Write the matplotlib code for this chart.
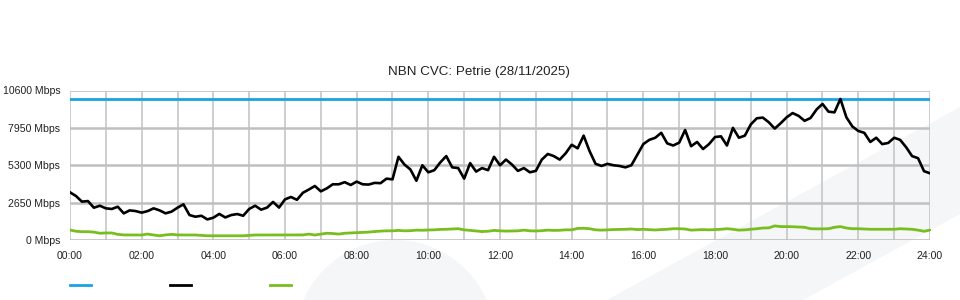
import numpy as np
import matplotlib
matplotlib.use("Agg")
import matplotlib.pyplot as plt
from matplotlib.lines import Line2D
from matplotlib.patches import Polygon, Ellipse

plt.rcParams['font.family'] = ['Liberation Sans', 'DejaVu Sans']

title = "NBN CVC: Petrie (28/11/2025)"
y_ticks = [0, 2650, 5300, 7950, 10600]
y_tick_labels = ["0 Mbps", "2650 Mbps", "5300 Mbps", "7950 Mbps", "10600 Mbps"]
x_tick_hours = [0, 2, 4, 6, 8, 10, 12, 14, 16, 18, 20, 22, 24]
x_tick_labels = ["00:00", "02:00", "04:00", "06:00", "08:00", "10:00", "12:00",
                 "14:00", "16:00", "18:00", "20:00", "22:00", "24:00"]

capacity_mbps = 10000

# 10-minute samples, 00:00 .. 24:00
usage_mbps = [
    3380, 3120, 2720, 2760, 2290, 2430,
    2245, 2200, 2360, 1890, 2100, 2050,
    1940, 2050, 2245, 2100, 1890, 2010,
    2290, 2530, 1770, 1650, 1720, 1460,
    1580, 1850, 1600, 1770, 1840, 1720,
    2200, 2430, 2150, 2300, 2700, 2300,
    2880, 3050, 2850, 3350, 3580, 3830,
    3450, 3660, 3950, 3950, 4100, 3900,
    4140, 3950, 3930, 4050, 4030, 4350,
    4300, 5900, 5350, 5000, 4200, 5300,
    4800, 4950, 5500, 5950, 5150, 5100,
    4350, 5450, 4850, 5100, 4950, 5900,
    5300, 5700, 5350, 4900, 5100, 4800,
    4900, 5700, 6100, 5950, 5700, 6150,
    6750, 6500, 7400, 6300, 5400, 5250,
    5400, 5300, 5250, 5150, 5300, 6050,
    6800, 7100, 7250, 7600, 6850, 6700,
    6900, 7800, 6650, 6950, 6450, 6800,
    7300, 7350, 6700, 7950, 7250, 7400,
    8200, 8630, 8680, 8350, 7900, 8280,
    8700, 9000, 8800, 8450, 8650, 9250,
    9650, 9100, 9050, 10000, 8700, 8050,
    7730, 7600, 6950, 7250, 6800, 6880,
    7250, 7100, 6580, 5950, 5800, 4880,
    4730,
]

upload_mbps = [
    709, 620, 590, 590, 560, 480,
    500, 500, 400, 360, 355, 355,
    355, 420, 355, 300, 360, 400,
    360, 355, 355, 355, 330, 300,
    300, 300, 300, 300, 300, 300,
    330, 355, 355, 355, 355, 355,
    355, 355, 355, 360, 420, 355,
    420, 480, 460, 420, 480, 500,
    520, 540, 560, 600, 630, 650,
    650, 680, 650, 660, 700, 690,
    710, 720, 750, 760, 780, 800,
    720, 680, 640, 600, 620, 680,
    650, 630, 640, 650, 700, 650,
    640, 660, 700, 680, 690, 720,
    720, 820, 830, 800, 720, 700,
    720, 740, 750, 760, 780, 740,
    760, 730, 710, 740, 760, 800,
    800, 780, 700, 720, 740, 720,
    740, 760, 800, 760, 700, 720,
    760, 800, 850, 860, 1000, 950,
    950, 940, 920, 900, 800, 790,
    790, 800, 900, 950, 850, 800,
    800, 780, 760, 760, 760, 760,
    760, 800, 780, 760, 700, 620,
    700,
]

hours = np.arange(len(usage_mbps)) / 6.0

W, H = 960, 300
fig = plt.figure(figsize=(W / 100, H / 100), dpi=100)
fig.patch.set_facecolor('white')

# faint watermark shapes
wm = '#f5f6f8'
fig.add_artist(Polygon([(607 / W, 0), (960 / W, 1 - 107 / H), (960 / W, 1 - 214 / H), (803 / W, 0)],
                       closed=True, transform=fig.transFigure, facecolor=wm, edgecolor='none', zorder=0))
fig.add_artist(Ellipse((395 / W, 1 - 340 / H), 200 / W, 200 / H, transform=fig.transFigure,
                       facecolor=wm, edgecolor='none', zorder=0))

ax = fig.add_axes([70 / W, 1 - 240 / H, 860 / W, 149.5 / H])
ax.set_facecolor('none')
ax.set_zorder(1)

ax.set_xlim(0, 24)
ax.set_ylim(0, 10600)

for h in range(0, 25):
    ax.axvline(h, color='#c6c6c6', lw=1.2, zorder=1)
for v in y_ticks:
    ax.axhline(v, color='#c0c0c0', lw=1.8 if 0 < v < 10600 else 1.2, zorder=1)

ax.axhline(capacity_mbps, color='#1aa3e0', lw=2, zorder=3)
ax.plot(hours, upload_mbps, color='#78be20', lw=2, marker='s', markersize=1.6,
        markeredgewidth=0, zorder=3)
ax.plot(hours, usage_mbps, color='#000000', lw=1.9, zorder=4)

for s in ax.spines.values():
    s.set_visible(False)

ax.set_yticks(y_ticks)
ax.set_yticklabels(y_tick_labels)
ax.set_xticks(x_tick_hours)
ax.set_xticklabels(x_tick_labels)
ax.tick_params(axis='both', length=0, labelsize=7.6, colors='#222222')
ax.tick_params(axis='y', pad=7)
ax.tick_params(axis='x', pad=8)

fig.text(479 / W, 1 - 72 / H, title, ha='center', va='center', fontsize=9.6, color='#222222')

# legend handles (no labels)
for x0, c in [(70, '#1aa3e0'), (170, '#000000'), (270, '#78be20')]:
    fig.add_artist(Line2D([x0 / W, (x0 + 21) / W], [1 - 285 / H, 1 - 285 / H],
                          transform=fig.transFigure, color=c, lw=2))

fig.savefig('out.png', dpi=100)
